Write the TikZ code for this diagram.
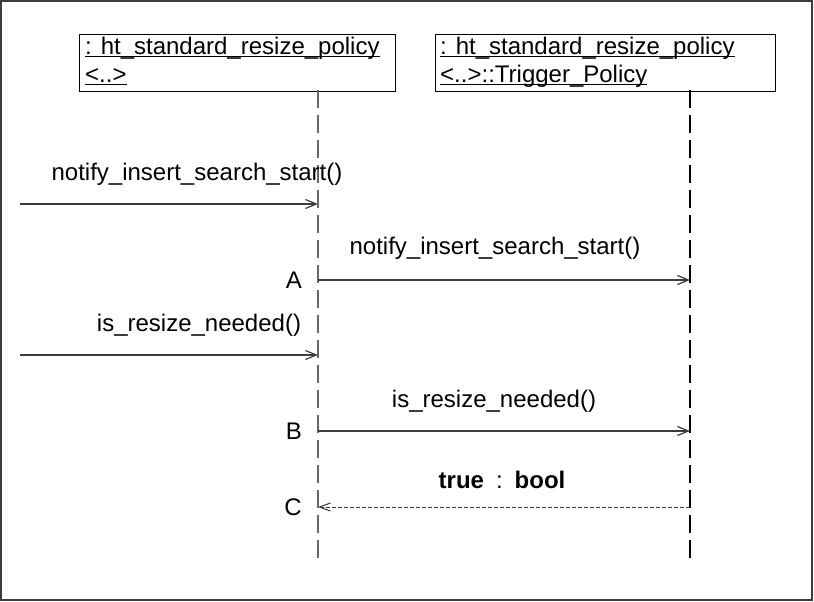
\documentclass[tikz,border=0pt]{standalone}
\usepackage{fontspec}
\setmainfont{Liberation Sans}
\usetikzlibrary{positioning}
\usetikzlibrary{arrows.meta}
\definecolor{msggray}{RGB}{60,60,60}
\definecolor{lifegray}{RGB}{105,105,105}
\newcommand{\uname}[1]{\underline{\smash{#1}}}

\begin{document}
\begin{tikzpicture}[x=1pt,y=-1pt,
	font=\fontsize{24}{28}\selectfont,
	head/.style={draw,line width=1pt,inner sep=0pt,anchor=north west},
	headtext/.style={anchor=base west,inner sep=0pt},
	lifeline/.style={line width=1.3pt,dash pattern=on 18pt off 7pt},
	call/.style={msggray,line width=1.2pt,-{Straight Barb[length=11pt,width=9pt]}},
	reply/.style={msggray,line width=1pt,dash pattern=on 4pt off 2pt,-{Straight Barb[length=11pt,width=8pt]}},
	msglabel/.style={anchor=base,inner sep=0pt},
	tag/.style={inner sep=0pt,anchor=east}]

	\useasboundingbox (0,0) rectangle (814,602);
	\draw[msggray,line width=2pt] (1,1) rectangle (812,600);

	% heads
	\node[head,minimum width=316pt,minimum height=57pt] (h1) at (79,34) {};
	\node[head,minimum width=340pt,minimum height=57pt] (h2) at (435,34) {};
	\node[headtext] (h1a) at ([shift={(6,21)}]h1.north west) {\uname{: ht\_standard\_resize\_policy}};
	\node[below=28pt of h1a.base west,headtext] (h1b) {\uname{<..>}};
	\node[headtext] (h2a) at ([shift={(5,21)}]h2.north west) {\uname{: ht\_standard\_resize\_policy}};
	\node[below=28pt of h2a.base west,headtext] (h2b) {\uname{<..>::Trigger\_Policy}};

	% lifelines
	\coordinate (l1top) at (318,90);
	\coordinate (l2top) at (690,90);
	\coordinate[below=473pt of l1top] (l1bot);
	\coordinate[below=473pt of l2top] (l2bot);
	\draw[lifeline,lifegray] (l1top) -- (l1bot);
	\draw[lifeline] (l2top) -- (l2bot);

	% messages
	\coordinate (in1) at (20,204);
	\coordinate (in1e) at (l1top |- in1);
	\coordinate (A) at (318,280);
	\coordinate (A2) at (l2top |- A);
	\coordinate (in2) at (20,355);
	\coordinate (in2e) at (l1top |- in2);
	\coordinate (B) at (318,431);
	\coordinate (B2) at (l2top |- B);
	\coordinate (C) at (318,507);
	\coordinate (C2) at (l2top |- C);

	\draw[call] (in1) -- (in1e);
	\draw[call] (A) -- (A2);
	\draw[call] (in2) -- (in2e);
	\draw[call] (B) -- (B2);
	\draw[reply] (C2) -- (C);

	\node[msglabel] (lbl1) at (197,180) {notify\_insert\_search\_start()};
	\node[msglabel] (lbl2) at (495,254) {notify\_insert\_search\_start()};
	\node[msglabel] (lbl3) at (199,331) {is\_resize\_needed()};
	\node[msglabel] (lbl4) at (494,407) {is\_resize\_needed()};
	\node[msglabel] (lbl5) at (502,488) {\textbf{true}\hspace{0.5em}:\hspace{0.5em}\textbf{bool}};

	\node[tag,left=16pt of A] (tagA) {A};
	\node[tag,left=16pt of B] (tagB) {B};
	\node[tag,left=16pt of C] (tagC) {C};

\end{tikzpicture}
\end{document}
